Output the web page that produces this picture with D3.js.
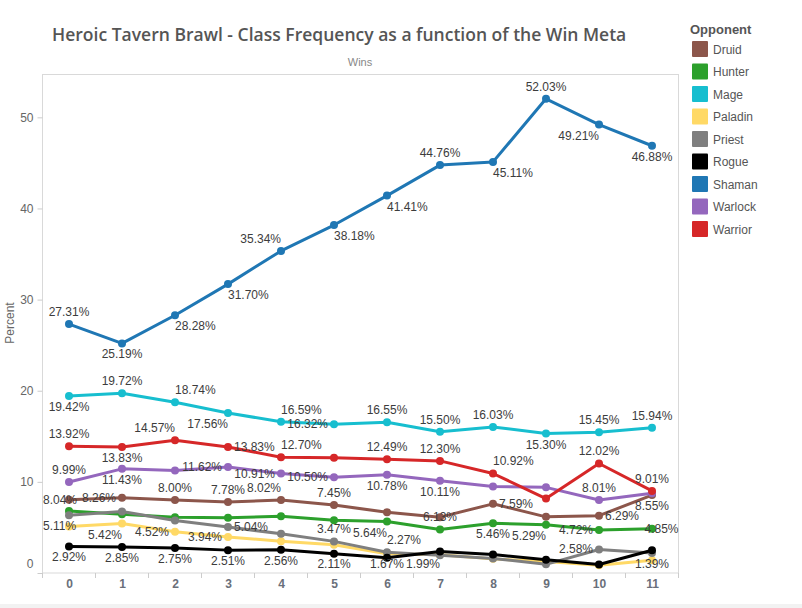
<!DOCTYPE html>
<html><head><meta charset="utf-8">
<script src="https://cdn.jsdelivr.net/npm/d3@7"></script>
<style>body{margin:0;background:#fff;} svg{display:block;}</style>
</head><body>
<svg id="chart" width="802" height="608"></svg>
<script>
const wins = [0,1,2,3,4,5,6,7,8,9,10,11];
const classes = ["Druid","Hunter","Mage","Paladin","Priest","Rogue","Shaman","Warlock","Warrior"];
const colors  = ["#8c564b","#2ca02c","#17becf","#ffd966","#7f7f7f","#000000","#1f77b4","#9467bd","#d62728"];
const yTicks = [0,10,20,30,40,50];

const druid   = [8.04, 8.26, 8.00, 7.78, 8.02, 7.45, 6.67, 6.13, 7.59, 6.16, 6.29, 8.55];
const hunter  = [6.80, 6.45, 6.12, 6.05, 6.23, 5.79, 5.64, 4.77, 5.46, 5.29, 4.72, 4.85];
const mage    = [19.42, 19.72, 18.74, 17.56, 16.59, 16.32, 16.55, 15.50, 16.03, 15.30, 15.45, 15.94];
const paladin = [5.11, 5.42, 4.52, 3.94, 3.49, 3.10, 2.10, 1.99, 1.55, 1.25, 0.86, 1.39];
const priest  = [6.35, 6.75, 5.76, 5.04, 4.30, 3.47, 2.27, 1.95, 1.60, 0.95, 2.58, 2.20];
const rogue   = [2.92, 2.85, 2.75, 2.51, 2.56, 2.11, 1.67, 2.35, 2.03, 1.45, 0.93, 2.50];
const shaman  = [27.31, 25.19, 28.28, 31.70, 35.34, 38.18, 41.41, 44.76, 45.11, 52.03, 49.21, 46.88];
const warlock = [9.99, 11.43, 11.24, 11.62, 10.91, 10.50, 10.78, 10.11, 9.50, 9.40, 8.01, 8.75];
const warrior = [13.92, 13.83, 14.57, 13.83, 12.70, 12.65, 12.49, 12.30, 10.92, 8.17, 12.02, 9.01];

// label placement per point (null = no label)
const druidLbl   = ["l","l","a","a","al","a",null,"c","r",null,"r","b"];
const hunterLbl  = [null,null,null,null,null,null,"bl",null,"b","bl","l","r"];
const mageLbl    = ["b","a","ar","bl","ar","l","a","a","a","b","a","a"];
const paladinLbl = ["l","bl","l","l",null,null,null,"bl",null,null,null,"b"];
const priestLbl  = [null,null,null,"r",null,"a","ar",null,null,null,"l",null];
const rogueLbl   = ["b","b","b","b","b","b","b",null,null,null,null,null];
const shamanLbl  = ["a","b","br","br","al","br","br","a","br","a","bl","b"];
const warlockLbl = ["a","b",null,"l","l","l","b","b",null,null,"a",null];
const warriorLbl = ["a","b","al","r","ar",null,"a","a","ar",null,"a","a"];

const seriesValues = [druid,hunter,mage,paladin,priest,rogue,shaman,warlock,warrior];
const seriesLabels = [druidLbl,hunterLbl,mageLbl,paladinLbl,priestLbl,rogueLbl,shamanLbl,warlockLbl,warriorLbl];

const svg = d3.select("#chart");
const L = 42.5, R = 678.5, T = 74.5, B = 573;

const x = d3.scalePoint().domain(wins).range([L, R]).padding(0.5);
const y = d3.scaleLinear().domain([0, 54.7]).range([B, T]);

// bottom strip
svg.append("rect").attr("x",0).attr("y",604).attr("width",802).attr("height",4).attr("fill","#f2f2f2");

// title
const title = svg.append("text").attr("x",52).attr("y",41)
  .attr("font-family","'Open Sans', sans-serif").attr("font-weight",600)
  .attr("font-size",17).attr("fill","#555")
  .text("Heroic Tavern Brawl - Class Frequency as a function of the Win Meta");
const tw = title.node().getComputedTextLength();
title.attr("font-size", 17 * 575 / tw);

svg.append("text").attr("x",360).attr("y",66).attr("text-anchor","middle")
  .attr("font-family","'Liberation Sans', Arial, sans-serif").attr("font-size",11)
  .attr("fill","#888").text("Wins");

// plot frame
svg.append("rect").attr("x",L).attr("y",T).attr("width",R-L).attr("height",B-T)
  .attr("fill","none").attr("stroke","#d9d9d9").attr("stroke-width",1);

// y axis
const yAxis = d3.axisLeft(y).tickValues(yTicks).tickSize(5).tickPadding(4);
const gy = svg.append("g").attr("transform",`translate(${L},0)`).call(yAxis);
gy.select(".domain").remove();
gy.selectAll("line").attr("stroke","#ccc");
gy.selectAll("text").attr("font-family","'Liberation Sans', Arial, sans-serif")
  .attr("font-size",12).attr("fill","#666");
gy.selectAll(".tick").filter(d => d === 0).select("text").attr("dy","-0.5em");

svg.append("text").attr("transform","translate(14,323) rotate(-90)")
  .attr("text-anchor","middle").attr("font-family","'Liberation Sans', Arial, sans-serif")
  .attr("font-size",12).attr("fill","#666").text("Percent");

// x axis
const xAxis = d3.axisBottom(x).tickSize(0).tickPadding(6);
const gx = svg.append("g").attr("transform",`translate(0,${B})`).call(xAxis);
gx.select(".domain").remove();
gx.selectAll("text").attr("font-family","'Liberation Sans', Arial, sans-serif")
  .attr("font-size",12).attr("font-weight","bold").attr("fill","#6a6f7a");
svg.append("g").selectAll("line").data(d3.range(wins.length + 1)).join("line")
  .attr("x1", i => L + i * x.step()).attr("x2", i => L + i * x.step())
  .attr("y1", B).attr("y2", B + 5).attr("stroke","#ccc");

// lines
const line = d3.line().x((d,i) => x(wins[i])).y(d => y(d));
const gl = svg.append("g");
seriesValues.forEach((vals, s) => {
  gl.append("path").datum(vals).attr("d", line).attr("fill","none")
    .attr("stroke", colors[s]).attr("stroke-width",3).attr("stroke-linejoin","round");
  gl.append("g").selectAll("circle").data(vals).join("circle")
    .attr("cx",(d,i)=>x(wins[i])).attr("cy",d=>y(d)).attr("r",4).attr("fill",colors[s]);
});

// labels
const glab = svg.append("g").attr("font-family","'Liberation Sans', Arial, sans-serif")
  .attr("font-size",12).attr("fill","#3c3c3c");
seriesValues.forEach((vals, s) => {
  vals.forEach((v, i) => {
    const code = seriesLabels[s][i];
    if (!code) return;
    const px = x(wins[i]), py = y(v);
    const t = glab.append("text").text(v.toFixed(2) + "%");
    const w = t.node().getComputedTextLength();
    let cx = px, cy = py;
    if (code[0] === "a") cy = py - 12;
    else if (code[0] === "b") cy = py + 11;
    if (code === "ar" || code === "br") cx = px + w/2;
    if (code === "al" || code === "bl") cx = px - w/2;
    if (code === "r") cx = px + 6 + w/2;
    if (code === "l") cx = px - 6 - w/2;
    let sx = cx - w/2;
    sx = Math.max(L + 0.5, Math.min(R - w, sx));
    let base = cy + 4;
    base = Math.min(base, 568);
    t.attr("x", sx).attr("y", base);
  });
});

// legend
const lg = svg.append("g").attr("font-family","'Liberation Sans', Arial, sans-serif");
lg.append("text").attr("x",690).attr("y",34).attr("font-size",13).attr("font-weight","bold")
  .attr("fill","#555").text("Opponent");
classes.forEach((c, i) => {
  const yy = 49 + i * 22.5;
  lg.append("rect").attr("x",692).attr("y",yy-8).attr("width",16).attr("height",16)
    .attr("rx",1).attr("fill",colors[i]);
  lg.append("text").attr("x",713).attr("y",yy+4.5).attr("font-size",12)
    .attr("fill","#555").text(c);
});
</script>
</body></html>
